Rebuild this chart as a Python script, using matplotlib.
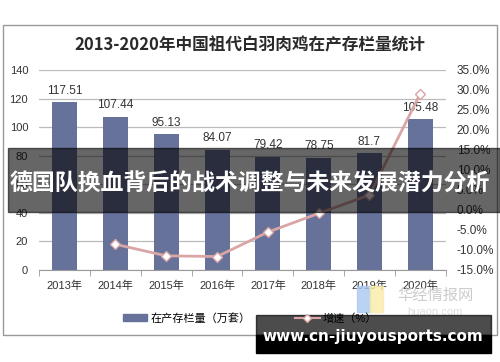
import matplotlib.pyplot as plt
import matplotlib.patches as mpatches
from matplotlib.lines import Line2D

plt.rcParams['font.family'] = ['Liberation Sans', 'Noto Sans CJK SC', 'DejaVu Sans']

years = ['2013年', '2014年', '2015年', '2016年', '2017年', '2018年', '2019年', '2020年']
stock = [117.51, 107.44, 95.13, 84.07, 79.42, 78.75, 81.7, 105.48]
growth = [None, -8.57, -11.46, -11.63, -5.53, -0.84, 3.75, 29.11]

bar_color = '#67729A'
line_color = '#D9A5A5'
W, H = 500, 362

fig = plt.figure(figsize=(5, 3.62), dpi=100)

# outer frame
fig.patches.append(mpatches.Rectangle((3 / W, 1 - 335 / H), 494 / W, 310 / H,
                                      transform=fig.transFigure, fill=False,
                                      edgecolor='#999999', lw=1))

fig.text(0.5, 1 - 45 / H, '2013-2020年中国祖代白羽肉鸡在产存栏量统计',
         ha='center', va='center', fontsize=12, color='#2a2a2a', weight='bold',
         family=['Noto Sans CJK SC', 'DejaVu Sans'])

ax = fig.add_axes([39.3 / W, 1 - 270 / H, 406.4 / W, 200 / H])
x = list(range(len(years)))
bars = ax.bar(x, stock, width=0.49, color=bar_color, zorder=2)
for xi, v in zip(x, stock):
    ax.annotate(f'{v:g}', (xi, v), xytext=(0, 4), textcoords='offset points',
                ha='center', va='bottom', fontsize=8.5, color='#333333')
ax.set_xlim(-0.5, len(years) - 0.5)
ax.set_ylim(0, 140)
ax.set_yticks(range(0, 141, 20))
ax.grid(axis='y', color='#BBBBBB', lw=0.9, zorder=0)
ax.set_xticks(x)
ax.set_xticklabels(years)
ax.set_xticks([i - 0.5 for i in range(len(years) + 1)], minor=True)
ax.tick_params(axis='x', which='major', length=0, pad=8, labelsize=8, colors='#333333')
ax.tick_params(axis='x', which='minor', length=4, color='#999999')
ax.tick_params(axis='y', length=0, pad=8, labelsize=8, colors='#333333')
for s in ['top', 'right', 'left']:
    ax.spines[s].set_visible(False)
ax.spines['bottom'].set_color('#999999')

ax2 = ax.twinx()
gx = [xi for xi, g in zip(x, growth) if g is not None]
gy = [g for g in growth if g is not None]
ax2.plot(gx, gy, color=line_color, lw=2, marker='D', markersize=5,
         markerfacecolor='white', markeredgecolor=line_color, zorder=3)
ax2.set_ylim(-15, 35)
ax2.set_yticks(range(-15, 36, 5))
ax2.set_yticklabels([f'{t:.1f}%' for t in range(-15, 36, 5)])
ax2.tick_params(axis='y', length=0, pad=8, labelsize=8.5, colors='#333333')
for s in ['top', 'right', 'left', 'bottom']:
    ax2.spines[s].set_visible(False)

handles = [mpatches.Patch(color=bar_color),
           Line2D([], [], color=line_color, lw=1.5, marker='D', markersize=4,
                  markerfacecolor='white', markeredgecolor=line_color)]
fig.legend(handles, ['在产存栏量（万套）', '增速（%）'], loc='center',
           bbox_to_anchor=(0.5, 1 - 318 / H), ncol=2, frameon=False,
           fontsize=8, handlelength=2.2, handleheight=0.5, columnspacing=4,
           handletextpad=0.3)

# site logo watermark
fig.patches.append(mpatches.Rectangle((357 / W, 1 - 312 / H), 13 / W, 26 / H,
                                      transform=fig.transFigure, color='#A9C8F0', alpha=0.8))
fig.patches.append(mpatches.Rectangle((370 / W, 1 - 312 / H), 13 / W, 26 / H,
                                      transform=fig.transFigure, color='#F8EBA8', alpha=0.8))
fig.text(435 / W, 1 - 295 / H, '华经情报网', ha='center', va='center', fontsize=11,
         color='#CCCCCC', family=['Noto Sans CJK SC'])
fig.text(435 / W, 1 - 312 / H, 'huaon.com', ha='center', va='center', fontsize=8,
         color='#DDDDDD')

# overlay banner
fig.patches.append(mpatches.Rectangle((8 / W, 1 - 212 / H), 492 / W, 64 / H,
                                      transform=fig.transFigure, color='black',
                                      alpha=0.6, zorder=5))
fig.text(250 / W, 1 - 184 / H, '德国队换血背后的战术调整与未来发展潜力分析',
         ha='center', va='center', fontsize=16.5, color='white', weight='bold',
         family=['Noto Sans CJK SC', 'DejaVu Sans'], zorder=6)

# url watermark
fig.patches.append(mpatches.Rectangle((256 / W, 1 - 335 / H), 235 / W, 20 / H,
                                      transform=fig.transFigure, color='black',
                                      alpha=0.7, zorder=5))
fig.patches.append(mpatches.Rectangle((256 / W, 1 - 353 / H), 235 / W, 18 / H,
                                      transform=fig.transFigure, color='black', zorder=5))
fig.text(373 / W, 1 - 336 / H, 'www.cn-jiuyousports.com', ha='center', va='center',
         fontsize=11, color='white', weight='bold', family='DejaVu Sans', zorder=6)

fig.savefig('out.png', dpi=100)
